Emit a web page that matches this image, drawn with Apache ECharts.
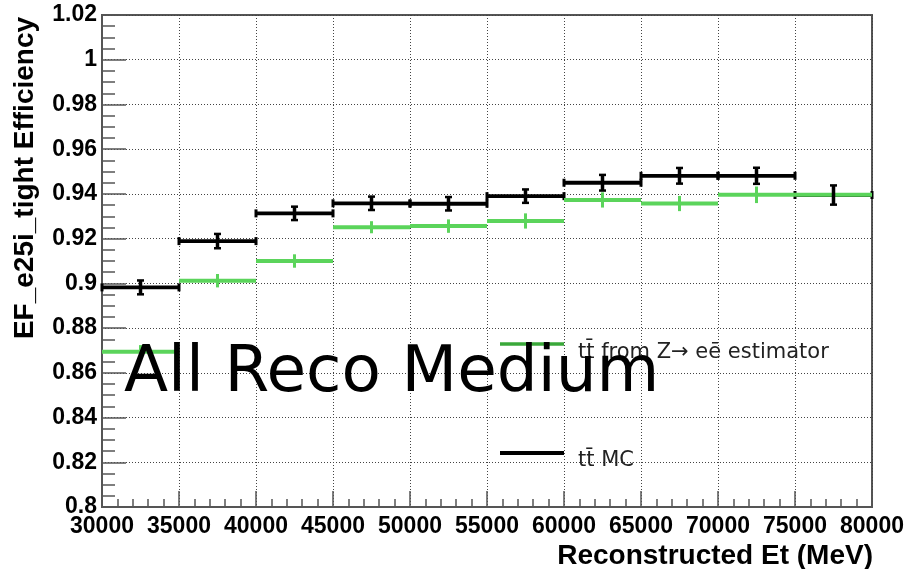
<!DOCTYPE html>
<html>
<head>
<meta charset="utf-8">
<title>EF_e25i_tight efficiency vs reconstructed Et</title>
<script src="https://cdn.jsdelivr.net/npm/echarts@6/dist/echarts.min.js"></script>
<style>
  html, body { margin: 0; padding: 0; background: #fff; }
  #chart { width: 908px; height: 569px; }
</style>
</head>
<body>
<div id="chart"></div>
<script>
// Bin edges in reconstructed Et (MeV)
const binEdges = [30000, 35000, 40000, 45000, 50000, 55000, 60000, 65000, 70000, 75000, 80000];

// ttbar MC efficiency per bin and its uncertainty
const mcEff = [0.8982, 0.9189, 0.9313, 0.9358, 0.9356, 0.9390, 0.9450, 0.9481, 0.9481, 0.9395];
const mcErr = [0.0031, 0.0032, 0.0030, 0.0030, 0.0030, 0.0030, 0.0035, 0.0035, 0.0036, 0.0043];

// ttbar from Z -> ee estimator efficiency per bin and its uncertainty
const estEff = [0.8694, 0.9012, 0.9100, 0.9251, 0.9256, 0.9279, 0.9373, 0.9357, 0.9396, 0.9396];
const estErr = [0.0030, 0.0030, 0.0030, 0.0027, 0.0030, 0.0034, 0.0034, 0.0034, 0.0037, 0.0030];

// Axis tick settings
const xTicks = { min: 30000, max: 80000, step: 5000 };
const yTicks = { min: 0.8, max: 1.02, step: 0.02 };

const mcLabel = 'tt\u0304 MC';
const estLabel = 'tt\u0304 from Z\u2192 ee\u0304 estimator';

const MC_COLOR = '#000000';
const EST_COLOR = '#5bd45b';

function rows(eff, err) {
  return eff.map((v, i) => [binEdges[i], binEdges[i + 1], v, err[i]]);
}

// Horizontal bin-width bar, optionally with small perpendicular end marks
function binLine(color, width, endMarks) {
  return function (params, api) {
    const lo = api.value(0), hi = api.value(1), v = api.value(2);
    const a = api.coord([lo, v]);
    const b = api.coord([hi, v]);
    const children = [{
      type: 'line',
      shape: { x1: a[0], y1: a[1], x2: b[0], y2: b[1] },
      style: { stroke: color, lineWidth: width }
    }];
    if (endMarks) {
      [a, b].forEach(p => children.push({
        type: 'line',
        shape: { x1: p[0], y1: p[1] - 4, x2: p[0], y2: p[1] + 4 },
        style: { stroke: color, lineWidth: 3 }
      }));
    }
    return { type: 'group', children };
  };
}

// Vertical error bar at the bin centre, optionally capped
function errBar(color, width, caps) {
  return function (params, api) {
    const lo = api.value(0), hi = api.value(1), v = api.value(2), e = api.value(3);
    const mid = (lo + hi) / 2;
    const t = api.coord([mid, v + e]);
    const bt = api.coord([mid, v - e]);
    const children = [{
      type: 'line',
      shape: { x1: t[0], y1: t[1], x2: bt[0], y2: bt[1] },
      style: { stroke: color, lineWidth: width }
    }];
    if (caps) {
      [t, bt].forEach(p => children.push({
        type: 'line',
        shape: { x1: p[0] - 3.5, y1: p[1], x2: p[0] + 3.5, y2: p[1] },
        style: { stroke: color, lineWidth: 2.5 }
      }));
    }
    return { type: 'group', children };
  };
}

const tickFont = {
  fontFamily: "'Liberation Sans', Arial, sans-serif",
  fontWeight: 'bold',
  fontSize: 23,
  color: '#000'
};

const chart = echarts.init(document.getElementById('chart'), null, { renderer: 'canvas' });

chart.setOption({
  animation: false,
  backgroundColor: '#ffffff',
  grid: {
    left: 102, right: 36, top: 15, bottom: 62,
    show: true, borderColor: '#555', borderWidth: 2, backgroundColor: 'transparent'
  },
  xAxis: {
    type: 'value',
    min: xTicks.min, max: xTicks.max, interval: xTicks.step,
    axisLine: { show: true, onZero: false, lineStyle: { color: '#555', width: 2 } },
    axisTick: { show: true, inside: true, length: 16, lineStyle: { color: '#555', width: 1.5 } },
    minorTick: { show: true, splitNumber: 5, length: 8, lineStyle: { color: '#555', width: 1.5 } },
    splitLine: { show: true, lineStyle: { color: '#444', type: [1, 2], width: 1 } },
    axisLabel: Object.assign({ margin: 8, showMinLabel: true, showMaxLabel: true,
      formatter: v => String(v) }, tickFont)
  },
  yAxis: {
    type: 'value',
    min: yTicks.min, max: yTicks.max, interval: yTicks.step,
    axisLine: { show: true, onZero: false, lineStyle: { color: '#555', width: 2 } },
    axisTick: { show: true, inside: true, length: 24, lineStyle: { color: '#555', width: 1.5 } },
    minorTick: { show: true, splitNumber: 4, length: 13, lineStyle: { color: '#555', width: 1.5 } },
    splitLine: { show: true, lineStyle: { color: '#444', type: [1, 2], width: 1 } },
    axisLabel: Object.assign({ margin: 5, showMinLabel: true, showMaxLabel: true,
      formatter: v => String(parseFloat(v.toFixed(2))) }, tickFont)
  },
  series: [
    {
      name: mcLabel, type: 'custom', z: 3,
      renderItem: binLine(MC_COLOR, 3.8, true),
      encode: { x: [0, 1], y: 2 },
      data: rows(mcEff, mcErr)
    },
    {
      name: estLabel, type: 'custom', z: 4,
      renderItem: binLine(EST_COLOR, 4, false),
      encode: { x: [0, 1], y: 2 },
      data: rows(estEff, estErr)
    },
    {
      name: estLabel + ' errors', type: 'custom', z: 5,
      renderItem: errBar(EST_COLOR, 3, false),
      encode: { x: [0, 1], y: 2 },
      data: rows(estEff, estErr)
    },
    {
      name: mcLabel + ' errors', type: 'custom', z: 6,
      renderItem: errBar(MC_COLOR, 3.5, true),
      encode: { x: [0, 1], y: 2 },
      data: rows(mcEff, mcErr)
    }
  ],
  graphic: [
    // axis titles
    {
      type: 'text', x: 873, y: 556, z: 10,
      style: { text: 'Reconstructed Et (MeV)', fill: '#000', align: 'right', verticalAlign: 'middle',
        font: "bold 28px 'Liberation Sans', Arial, sans-serif" }
    },
    {
      type: 'text', x: 25, y: 178, rotation: Math.PI / 2, z: 10,
      style: { text: 'EF_e25i_tight Efficiency', fill: '#000', align: 'center', verticalAlign: 'middle',
        font: "bold 28px 'Liberation Sans', Arial, sans-serif" }
    },
    // selection label
    {
      type: 'text', x: 124, y: 374, z: 20,
      style: { text: 'All Reco Medium', fill: '#000', align: 'left', verticalAlign: 'middle',
        font: "64.5px 'DejaVu Sans', sans-serif" }
    },
    // legend
    {
      type: 'line', z: 10,
      shape: { x1: 500, y1: 344, x2: 564, y2: 344 },
      style: { stroke: '#3aa83a', lineWidth: 3.5 }
    },
    {
      type: 'text', x: 578, y: 352.5, z: 10,
      style: { text: estLabel, fill: '#222', align: 'left', verticalAlign: 'middle',
        font: "21px 'DejaVu Sans', sans-serif" }
    },
    {
      type: 'line', z: 10,
      shape: { x1: 500, y1: 453, x2: 564, y2: 453 },
      style: { stroke: '#000', lineWidth: 4 }
    },
    {
      type: 'text', x: 578, y: 461, z: 10,
      style: { text: mcLabel, fill: '#222', align: 'left', verticalAlign: 'middle',
        font: "21px 'DejaVu Sans', sans-serif" }
    }
  ]
});
</script>
</body>
</html>
